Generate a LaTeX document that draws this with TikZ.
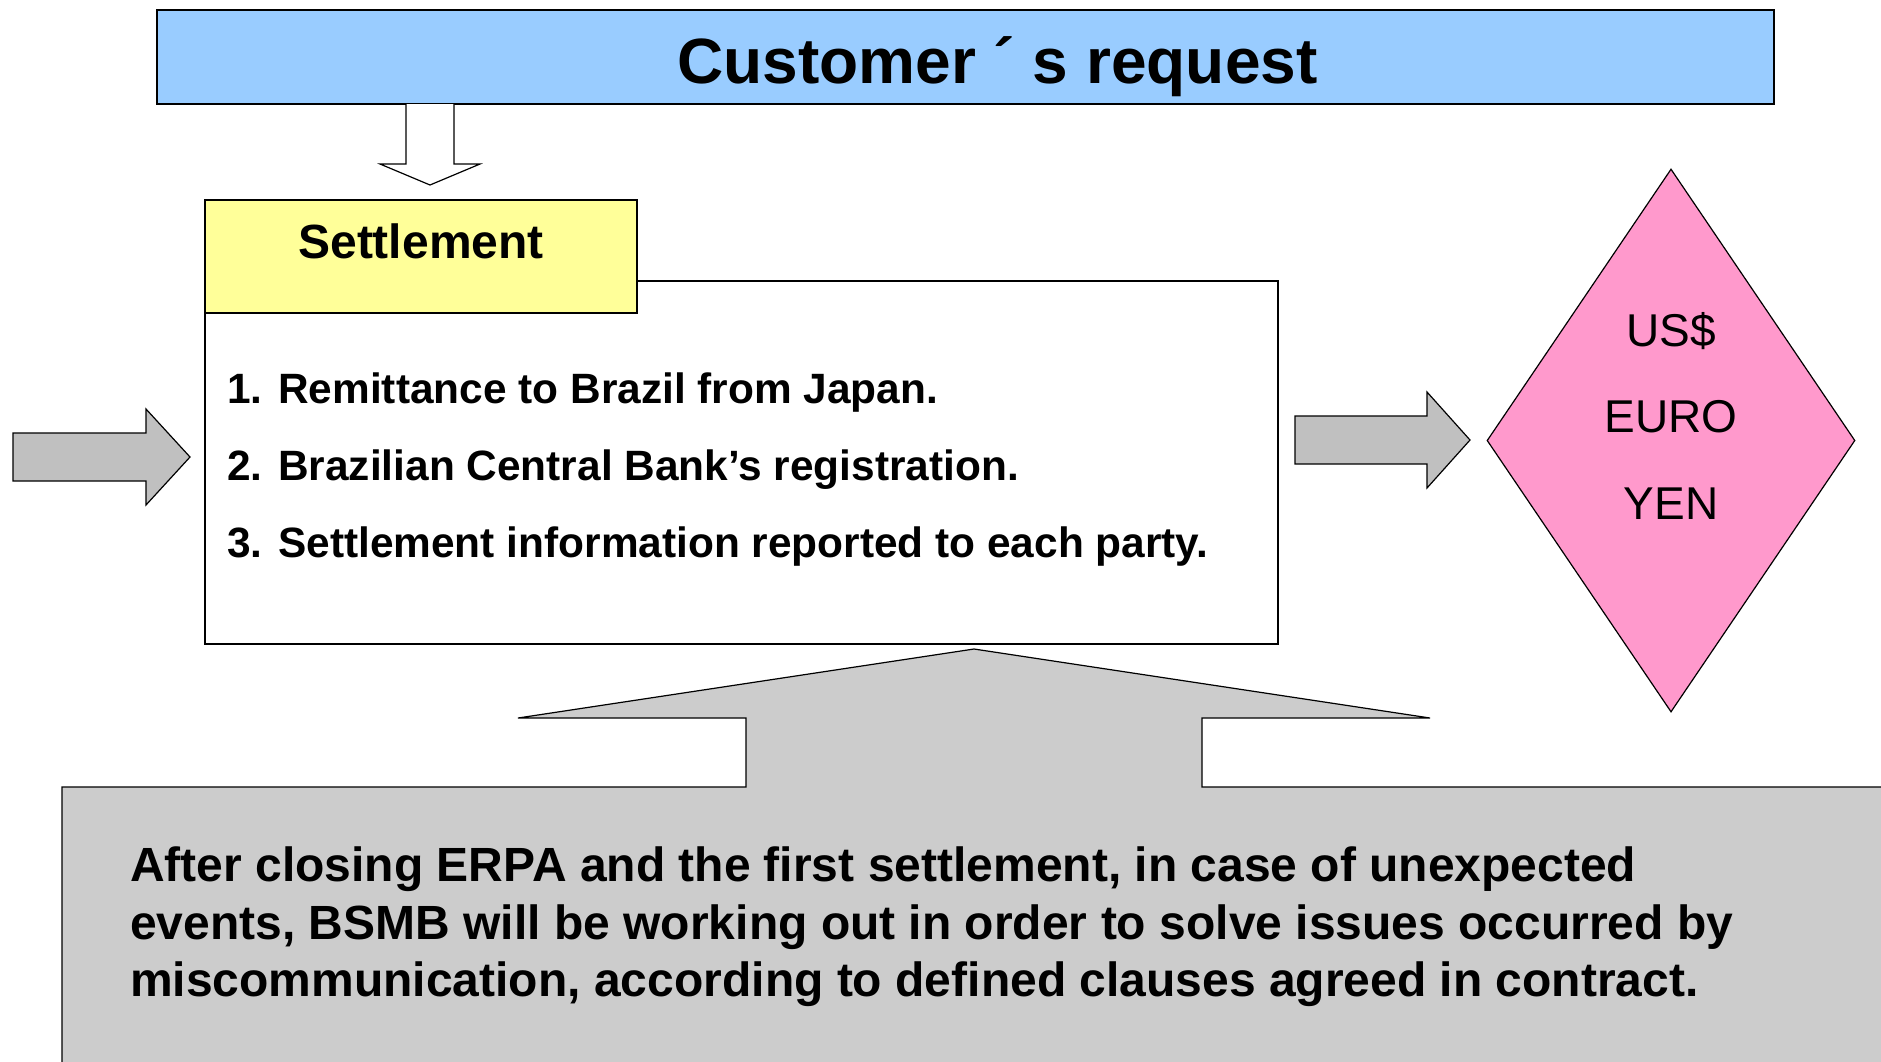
\documentclass[tikz,border=0pt]{standalone}
\usepackage{fontspec}
\setmainfont{Liberation Sans}
\usetikzlibrary{shapes.geometric}

\definecolor{titleblue}{RGB}{153,204,255}
\definecolor{settleyellow}{RGB}{255,255,153}
\definecolor{currencypink}{RGB}{255,153,204}
\definecolor{arrowgray}{RGB}{192,192,192}
\definecolor{notegray}{RGB}{204,204,204}

\begin{document}
\begin{tikzpicture}[x=1pt,y=-1pt,
    box/.style={draw,line width=1.2pt,inner sep=0pt},
    blockarrow/.style={draw,line width=1.2pt,line join=miter,fill=arrowgray}]
  \useasboundingbox (0,0) rectangle (1881,1061);
  \clip (0,0) rectangle (1881,1061);

  % boxes
  \node[box,fill=titleblue,minimum width=1617pt,minimum height=94pt,
    label={[font=\fontsize{64}{77}\selectfont\bfseries,xshift=32pt,yshift=-10pt]center:Customer ´ s request}] (request) at (965.5,57) {};
  \node[box,fill=white,minimum width=1073pt,minimum height=363pt] (list) at (741.5,462.5) {};
  \node[box,fill=settleyellow,minimum width=432pt,minimum height=113pt,
    label={[font=\fontsize{48}{58}\selectfont\bfseries,yshift=15pt]center:Settlement}] (settle) at (421,256.5) {};
  \node[anchor=north west,inner sep=0pt,align=left,font=\fontsize{42.4}{77}\selectfont\bfseries] (steps) at (227,373) {1. Remittance to Brazil from Japan.\\2. Brazilian Central Bank’s registration.\\3. Settlement information reported to each party.};
  \node[diamond,draw,line width=1.2pt,fill=currencypink,inner sep=0pt,aspect=0.68,minimum width=368pt,minimum height=543pt,
    label={[align=center,font=\fontsize{46}{86.5}\selectfont,yshift=25pt]center:US\$\\EURO\\YEN}] (currency) at (1671,440.5) {};

  % arrows
  \draw[line width=1.2pt,fill=white,line join=miter] (406,104) -- (406,164) -- (380,164) -- (430,185) -- (480,164) -- (454,164) -- (454,104);
  \draw[blockarrow] (13,433) -- (146,433) -- (146,409) -- (190,457) -- (146,505) -- (146,481) -- (13,481) -- cycle;
  \draw[blockarrow] (1295,416) -- (1427,416) -- (1427,392) -- (1470,440) -- (1427,488) -- (1427,464) -- (1295,464) -- cycle;

  % note with arrow
  \draw[line width=1.2pt,line join=miter,fill=notegray] (62,1075) -- (62,787) -- (746,787) -- (746,718) -- (518,718) -- (974,649)
    -- (1430,718) -- (1202,718) -- (1202,787) -- (1895,787) -- (1895,1075) -- cycle;
  \node[anchor=north west,inner sep=0pt,align=left,font=\fontsize{48}{57.5}\selectfont\bfseries] (note) at (130,847) {After closing ERPA and the first settlement, in case of unexpected\\events, BSMB will be working out in order to solve issues occurred by\\miscommunication, according to defined clauses agreed in contract.};
\end{tikzpicture}
\end{document}
